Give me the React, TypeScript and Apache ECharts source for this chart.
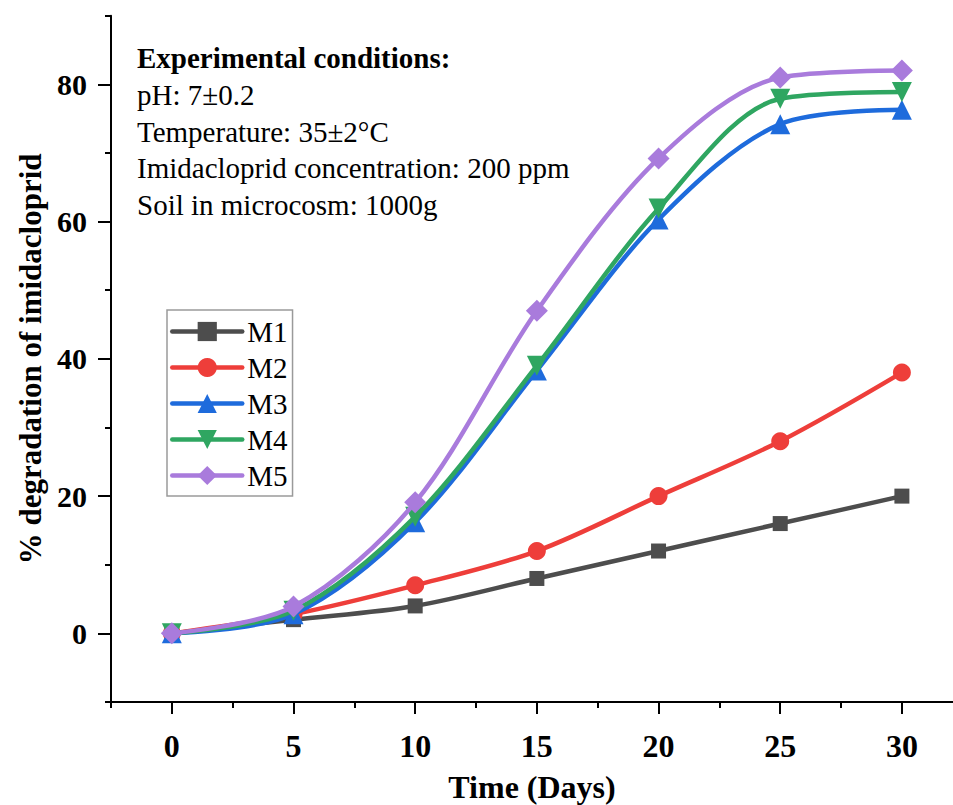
import React, { useEffect, useRef } from "react";
import * as echarts from "echarts";

const days = [0, 5, 10, 15, 20, 25, 30];
const seriesNames = ["M1", "M2", "M3", "M4", "M5"];
const m1 = [0, 2, 4, 8, 12, 16, 20];
const m2 = [0, 2.8, 7, 12, 20, 28, 38];
const m3 = [0, 2.8, 16.2, 38.3, 60.3, 74.2, 76.3];
const m4 = [0, 3.3, 17.0, 39.0, 61.9, 77.9, 78.9];
const m5 = [0, 3.9, 19.1, 47.0, 69.2, 81.0, 82.0];

const xMajorTicks = [0, 5, 10, 15, 20, 25, 30];
const xMinorTicks = [-2.5, 2.5, 7.5, 12.5, 17.5, 22.5, 27.5];
const yMajorTicks = [0, 20, 40, 60, 80];
const yMinorTicks = [-10, 10, 30, 50, 70, 90];

const noteTitle = "Experimental conditions:";
const noteLines = [
  "pH: 7±0.2",
  "Temperature: 35±2°C",
  "Imidacloprid concentration: 200 ppm",
  "Soil in microcosm: 1000g",
];

const FONT = '"Liberation Serif", "Times New Roman", Times, serif';

const colors = ["#4d4d4d", "#ee3e3a", "#1e6bdc", "#2fa661", "#a97bdc"];
const symbols = ["rect", "circle", "triangle", "triangle", "diamond"];
const symbolSizes = [15, 18, 20, 20, 22];
const symbolRotates = [0, 0, 0, 180, 0];

export default function App() {
  const ref = useRef<HTMLDivElement>(null);

  useEffect(() => {
    if (!ref.current) return;
    const chart = echarts.init(ref.current, undefined, { renderer: "svg" });
    const allValues = [m1, m2, m3, m4, m5];

    const series = seriesNames.map((name, i) => ({
      name,
      type: "line",
      xAxisIndex: 0,
      yAxisIndex: 0,
      smooth: 0.32,
      data: days.map((d, j) => [d, allValues[i][j]]),
      symbol: symbols[i],
      symbolSize: symbolSizes[i],
      symbolRotate: symbolRotates[i],
      showAllSymbol: true,
      lineStyle: { width: 4.5, color: colors[i], cap: "round", join: "round" },
      itemStyle: { color: colors[i], borderWidth: 0 },
      z: 2 + i,
    }));

    const noteGraphics: any[] = [
      {
        type: "text",
        x: 137,
        y: 58,
        style: {
          text: noteTitle,
          font: `bold 29px ${FONT}`,
          fill: "#000",
          verticalAlign: "middle",
        },
      },
      ...noteLines.map((t, i) => ({
        type: "text",
        x: 137,
        y: 58 + 36.8 * (i + 1),
        style: {
          text: t,
          font: `29px ${FONT}`,
          fill: "#000",
          verticalAlign: "middle",
        },
      })),
    ];

    chart.setOption({
      animation: false,
      backgroundColor: "#fff",
      grid: {
        left: 111,
        right: 0,
        top: 15.7,
        bottom: 103,
        containLabel: false,
        outerBoundsMode: "none",
      },
      legend: {
        orient: "vertical",
        left: 167,
        top: 310,
        padding: [7, 5, 6, 3],
        itemWidth: 70,
        itemHeight: 24,
        itemGap: 7,
        borderColor: "#9a9a9a",
        borderWidth: 1.5,
        borderRadius: 0,
        lineStyle: { width: 4.5, cap: "round" },
        textStyle: { fontFamily: FONT, fontSize: 29, color: "#000" },
        data: seriesNames,
      },
      xAxis: [
        {
          type: "value",
          position: "bottom",
          min: -2.5,
          max: 32.1,
          name: "Time (Days)",
          nameLocation: "middle",
          nameGap: 69,
          nameTextStyle: {
            fontFamily: FONT,
            fontWeight: "bold",
            fontSize: 32,
            color: "#000",
          },
          axisLine: { show: true, onZero: false, lineStyle: { color: "#000", width: 2 } },
          axisTick: {
            show: true,
            customValues: xMajorTicks,
            length: 12,
            lineStyle: { color: "#000", width: 2 },
          },
          axisLabel: {
            customValues: xMajorTicks,
            margin: 28,
            fontFamily: FONT,
            fontWeight: "bold",
            fontSize: 32,
            color: "#000",
          },
          splitLine: { show: false },
        },
        {
          type: "value",
          position: "bottom",
          min: -2.5,
          max: 32.1,
          axisLine: { show: false, onZero: false },
          axisTick: {
            show: true,
            customValues: xMinorTicks,
            length: 6,
            lineStyle: { color: "#000", width: 2 },
          },
          axisLabel: { show: false },
          splitLine: { show: false },
        },
      ],
      yAxis: [
        {
          type: "value",
          position: "left",
          min: -10,
          max: 90,
          name: "% degradation of imidacloprid",
          nameLocation: "middle",
          nameGap: 64,
          nameTextStyle: {
            fontFamily: FONT,
            fontWeight: "bold",
            fontSize: 31,
            color: "#000",
          },
          axisLine: { show: true, onZero: false, lineStyle: { color: "#000", width: 2 } },
          axisTick: {
            show: true,
            customValues: yMajorTicks,
            length: 13,
            lineStyle: { color: "#000", width: 2 },
          },
          axisLabel: {
            customValues: yMajorTicks,
            margin: 24,
            fontFamily: FONT,
            fontWeight: "bold",
            fontSize: 30,
            color: "#000",
          },
          splitLine: { show: false },
        },
        {
          type: "value",
          position: "left",
          min: -10,
          max: 90,
          axisLine: { show: false, onZero: false },
          axisTick: {
            show: true,
            customValues: yMinorTicks,
            length: 6,
            lineStyle: { color: "#000", width: 2 },
          },
          axisLabel: { show: false },
          splitLine: { show: false },
        },
      ],
      series,
      graphic: noteGraphics,
    });

    return () => chart.dispose();
  }, []);

  return <div ref={ref} style={{ width: 953, height: 805, position: "absolute", left: 0, top: 0 }} />;
}
